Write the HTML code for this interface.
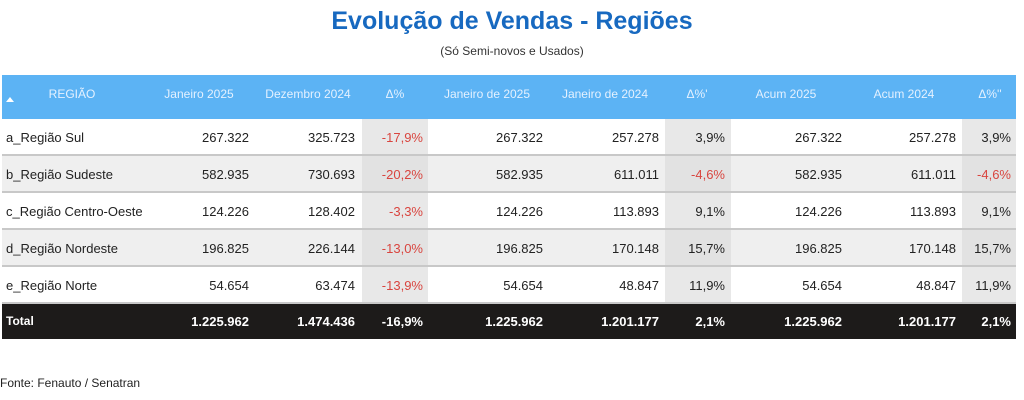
<!DOCTYPE html><html><head><meta charset="utf-8"><style>
body{margin:0;width:1024px;height:400px;background:#fff;font-family:"Liberation Sans",sans-serif;position:relative;overflow:hidden}
.a{position:absolute;white-space:nowrap}
.t{left:0;width:1024px;text-align:center}
.r{text-align:right}
.c{text-align:center;transform:translateX(-50%)}
</style></head><body>
<div class="a t" style="top:7px;font-size:25px;font-weight:bold;color:#1769c0">Evolução de Vendas - Regiões</div>
<div class="a t" style="top:44px;font-size:12px;color:#333">(Só Semi-novos e Usados)</div>
<div class="a" style="left:2px;top:75px;width:1014px;height:44px;background:#5cb3f4"></div>
<div class="a" style="left:6px;top:97px;width:0;height:0;border-left:4px solid transparent;border-right:4px solid transparent;border-bottom:5px solid #fff"></div>
<div class="a" style="left:2px;top:304px;width:1014px;height:35px;background:#1d1b1a"></div>
<div id="rows"></div>
<div class="a" style="left:0;top:376px;font-size:12px;color:#222">Fonte: Fenauto / Senatran</div>
<script>
const hdr=[["REGIÃO",72],["Janeiro 2025",199],["Dezembro 2024",308],["Δ%",395],["Janeiro de 2025",487],["Janeiro de 2024",605],["Δ%'",697],["Acum 2025",786],["Acum 2024",904],["Δ%''",990]];
let h="";
hdr.forEach(([t,x])=>h+=`<div class="a c" style="left:${x}px;top:87px;font-size:12px;color:#e4f1ff">${t}</div>`);
const rows=[["a_Região Sul","267.322","325.723","-17,9%","267.322","257.278","3,9%","267.322","257.278","3,9%"],
["b_Região Sudeste","582.935","730.693","-20,2%","582.935","611.011","-4,6%","582.935","611.011","-4,6%"],
["c_Região Centro-Oeste","124.226","128.402","-3,3%","124.226","113.893","9,1%","124.226","113.893","9,1%"],
["d_Região Nordeste","196.825","226.144","-13,0%","196.825","170.148","15,7%","196.825","170.148","15,7%"],
["e_Região Norte","54.654","63.474","-13,9%","54.654","48.847","11,9%","54.654","48.847","11,9%"],
["Total","1.225.962","1.474.436","-16,9%","1.225.962","1.201.177","2,1%","1.225.962","1.201.177","2,1%"]];
const ends=[249,355,423,543,659,725,842,956,1011];
rows.forEach((r,i)=>{
 const top=119+i*37, tot=i==5;
 if(!tot){
  h+=`<div class="a" style="left:2px;top:${top}px;width:1014px;height:36px;background:${i%2?'#efefef':'#fff'}"></div>`;
  [[362,66],[665,66],[962,54]].forEach(([x,w])=>h+=`<div class="a" style="left:${x}px;top:${top}px;width:${w}px;height:36px;background:${i%2?'#e2e2e2':'#e8e8e8'}"></div>`);
  h+=`<div class="a" style="left:2px;top:${top+35}px;width:1014px;height:2px;background:#c8c8c8"></div>`;
 }
 const ty=tot?top+10:top+11, col=tot?'#fff':'#222', fw=tot?'bold':'normal';
 h+=`<div class="a" style="left:6px;top:${ty}px;font-size:${tot?12:13}px;font-weight:${fw};color:${col}">${r[0]}</div>`;
 for(let j=1;j<10;j++){
  const neg=r[j].startsWith('-')&&!tot;
  h+=`<div class="a r" style="right:${1024-ends[j-1]}px;top:${ty}px;font-size:13px;font-weight:${fw};color:${neg?'#d9453f':col}">${r[j]}</div>`;
 }
});
document.getElementById('rows').outerHTML=h;
</script>
</body></html>
